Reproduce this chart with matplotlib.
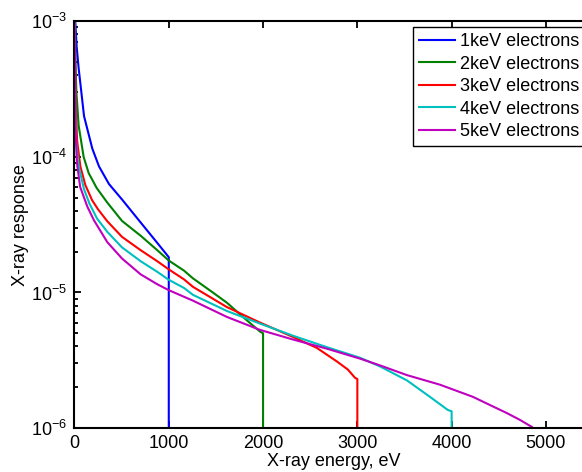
import matplotlib
matplotlib.use('Agg')
import matplotlib.pyplot as plt

plt.rcParams['font.family'] = ['Liberation Sans', 'DejaVu Sans']
plt.rcParams['mathtext.fontset'] = 'custom'
plt.rcParams['mathtext.rm'] = 'Liberation Sans'
plt.rcParams['mathtext.it'] = 'Liberation Sans:italic'

# datos (energia en eV, respuesta)
x_1kev = [8, 23, 44, 66, 101, 189, 260, 366, 504, 702, 878, 1000, 1000]
y_1kev = [1e-3, 6.5e-4, 4.5e-4, 3.3e-4, 2e-4, 1.15e-4, 8.5e-5, 6.3e-5, 4.85e-5, 3.28e-5, 2.32e-5, 1.82e-5, 1e-7]

x_2kev = [5, 10, 20, 44, 97, 150, 235, 348, 504, 702, 878, 1000, 1161, 1257, 1450, 1617, 1787, 1967,
          2000, 2000]
y_2kev = [1e-3, 5e-4, 3e-4, 1.7e-4, 1.0e-4, 7.6e-5, 5.9e-5, 4.6e-5, 3.37e-5, 2.62e-5, 2.05e-5, 1.72e-5,
          1.45e-5, 1.27e-5, 1.02e-5, 8.4e-6, 6.6e-6, 5.15e-6, 5.0e-6, 1e-7]

x_3kev = [4, 10, 27, 62, 115, 186, 250, 348, 504, 702, 878, 1000, 1161, 1257, 1617, 1967, 2317, 2571,
          2783, 2900, 2975, 3000, 3000]
y_3kev = [1e-3, 3e-4, 1.33e-4, 8.5e-5, 6.2e-5, 4.8e-5, 4.1e-5, 3.35e-5, 2.57e-5, 2.05e-5, 1.7e-5, 1.48e-5,
          1.25e-5, 1.1e-5, 7.8e-6, 6.0e-6, 4.7e-6, 3.9e-6, 3.1e-6, 2.7e-6, 2.35e-6, 2.3e-6, 1e-7]

x_4kev = [3, 8, 16, 45, 100, 160, 240, 348, 504, 702, 878, 1000, 1161, 1257, 1617, 1967, 2317, 2677,
          3030, 3240, 3525, 3770, 3960, 4000, 4000]
y_4kev = [1e-3, 2.5e-4, 1.3e-4, 8.5e-5, 5.8e-5, 4.5e-5, 3.5e-5, 2.8e-5, 2.15e-5, 1.7e-5, 1.42e-5, 1.24e-5,
          1.08e-5, 9.6e-6, 7.3e-6, 5.9e-6, 4.8e-6, 3.95e-6, 3.3e-6, 2.85e-6, 2.25e-6, 1.7e-6, 1.36e-6,
          1.33e-6, 1e-7]

x_5kev = [2, 6, 10, 26, 60, 136, 207, 348, 504, 702, 878, 1000, 1161, 1257, 1617, 1967, 2317, 2677, 3030,
          3240, 3525, 3876, 4226, 4406, 4586, 4724, 4851, 4900]
y_5kev = [1e-3, 4e-4, 1.66e-4, 9e-5, 6e-5, 4.3e-5, 3.4e-5, 2.35e-5, 1.78e-5, 1.36e-5, 1.15e-5, 1.04e-5,
          9.3e-6, 8.7e-6, 6.6e-6, 5.3e-6, 4.5e-6, 3.85e-6, 3.25e-6, 2.9e-6, 2.46e-6, 2.09e-6, 1.7e-6,
          1.48e-6, 1.29e-6, 1.15e-6, 1.02e-6, 9.5e-7]

etiquetas = ['1keV electrons', '2keV electrons', '3keV electrons', '4keV electrons', '5keV electrons']
colores = ['#0000ff', '#008000', '#ff0000', '#00bfbf', '#bf00bf']

fig = plt.figure(figsize=(5.82, 4.72), dpi=100)
# el eje sigue un poco mas alla del borde derecho de la imagen
ax = fig.add_axes([0.128, 0.093, 0.891, 0.862])

series = [(x_1kev, y_1kev), (x_2kev, y_2kev), (x_3kev, y_3kev), (x_4kev, y_4kev), (x_5kev, y_5kev)]
for (xs, ys), c, lab in zip(series, colores, etiquetas):
    ax.plot(xs, ys, color=c, lw=1.5, label=lab)

ax.set_yscale('log')
ax.set_ylim(1e-6, 1e-3)
ax.set_xlim(0, 5500)
ax.set_xticks([0, 1000, 2000, 3000, 4000, 5000])
ax.tick_params(which='both', direction='in', top=True, right=True, labelsize=13, width=1.3)
ax.tick_params(which='major', length=5, pad=5)
ax.tick_params(which='minor', length=3)
for s in ax.spines.values():
    s.set_linewidth(1.5)

ax.set_xlabel('X-ray energy, eV', fontsize=13, labelpad=1)
ax.set_ylabel('X-ray response', fontsize=13, labelpad=2)

leg = ax.legend(loc='upper left', bbox_to_anchor=(413 / 582, 1 - 27 / 472), bbox_transform=fig.transFigure,
                fontsize=13, fancybox=False, framealpha=1, edgecolor='black', handlelength=1.95,
                labelspacing=0.3, borderaxespad=0, borderpad=0.35, handletextpad=0.3)
leg.get_frame().set_linewidth(1.0)

plt.savefig('out.png', dpi=100)
plt.close()
